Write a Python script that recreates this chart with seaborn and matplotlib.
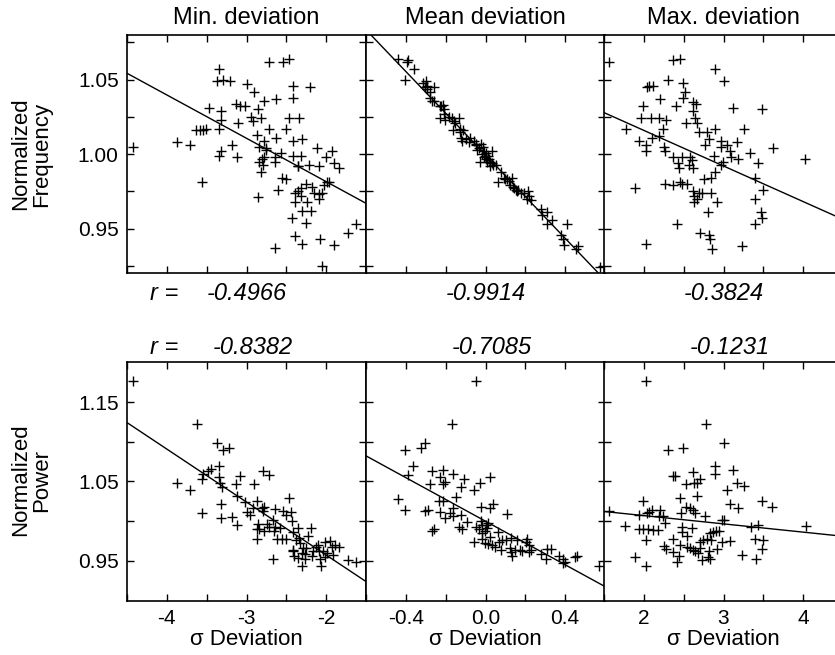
import numpy as np
import pandas as pd
import matplotlib
matplotlib.use("Agg")
import matplotlib.pyplot as plt
import seaborn as sns

# ---------------- data ----------------
col_titles = ["Min. deviation", "Mean deviation", "Max. deviation"]
row_labels = ["Normalized\nFrequency", "Normalized\nPower"]
x_label = "σ Deviation"
r_freq = ["-0.4966", "-0.9914", "-0.3824"]
r_power = ["-0.8382", "-0.7085", "-0.1231"]

freq_min_x = [-4.429, -3.877, -3.709, -3.634, -3.584, -3.550, -3.513, -3.555, -3.467, -3.341,
              -3.375, -3.291, -3.207, -3.320, -3.320, -3.341, -3.320, -3.341, -3.178, -3.115,
              -3.132, -3.082, -3.015, -3.111, -2.994, -2.902, -2.860, -2.948, -2.914, -2.818,
              -2.776, -2.873, -2.839, -2.780, -2.760, -2.847, -2.810, -2.776, -2.789, -2.818,
              -2.860, -2.714, -2.538, -2.463, -2.630, -2.722, -2.634, -2.641, -2.641, -2.563,
              -2.509, -2.471, -2.421, -2.421, -2.345, -2.421, -2.304, -2.417, -2.320, -2.358,
              -2.211, -2.086, -2.119, -2.203, -2.006, -1.923, -1.898, -1.835, -2.550, -2.509,
              -2.601, -2.387, -2.358, -2.316, -2.258, -2.182, -2.149, -2.094, -2.052, -2.027,
              -1.994, -1.965, -2.316, -2.387, -2.237, -2.086, -2.304, -2.191, -2.425, -2.249,
              -2.391, -2.304, -2.073, -1.906, -1.726, -1.622, -2.645, -2.052, -2.755, -2.358]
freq_min_y = [1.005, 1.008, 1.006, 1.016, 1.016, 1.016, 1.017, 0.981, 1.031, 1.057,
              1.049, 1.050, 1.049, 1.029, 1.023, 1.017, 1.002, 0.999, 1.006, 0.998,
              1.034, 1.032, 1.032, 1.021, 1.047, 1.042, 1.030, 1.025, 1.022, 1.024,
              1.036, 1.013, 1.005, 1.009, 1.003, 0.995, 0.997, 0.998, 0.993, 0.988,
              0.971, 1.062, 1.062, 1.064, 1.037, 1.017, 1.011, 0.998, 0.995, 1.001,
              1.017, 1.024, 1.046, 1.038, 1.024, 1.009, 1.010, 0.999, 0.999, 0.992,
              0.993, 0.992, 1.004, 1.045, 0.998, 1.002, 0.994, 0.991, 0.984, 0.983,
              0.976, 0.974, 0.975, 0.977, 0.980, 0.978, 0.974, 0.973, 0.974, 0.979,
              0.981, 0.981, 0.972, 0.968, 0.968, 0.970, 0.962, 0.962, 0.957, 0.954,
              0.945, 0.940, 0.943, 0.939, 0.947, 0.953, 0.937, 0.925, 1.004, 0.992]

freq_mean_x = [-0.437, -0.395, -0.387, -0.361, -0.403, -0.314, -0.301, -0.294, -0.261, -0.277,
               -0.277, -0.269, -0.227, -0.213, -0.207, -0.222, -0.227, -0.202, -0.168, -0.135,
               -0.151, -0.163, -0.126, -0.113, -0.121, -0.118, -0.096, -0.059, -0.050, -0.025,
               -0.034, -0.012, -0.008, 0.005, -0.005, 0.013, 0.034, -0.030, 0.000, 0.022,
               0.039, 0.055, 0.025, 0.062, 0.096, 0.118, 0.134, 0.123, 0.139, 0.160,
               0.176, 0.193, 0.213, 0.210, 0.227, 0.277, 0.311, 0.336, 0.311, 0.407,
               0.378, 0.391, 0.395, 0.462, 0.454, 0.576, -0.076, -0.084, -0.042, -0.020,
               0.008, 0.034, 0.076, 0.092, 0.109, 0.151, 0.218, -0.160, -0.185, -0.210,
               -0.261, -0.306, -0.008, 0.017, -0.126, -0.050, -0.294, 0.143, 0.163, 0.285]
freq_mean_y = [1.064, 1.062, 1.063, 1.057, 1.050, 1.048, 1.049, 1.046, 1.045, 1.042,
               1.038, 1.036, 1.032, 1.033, 1.030, 1.032, 1.024, 1.023, 1.024, 1.024,
               1.021, 1.016, 1.017, 1.016, 1.011, 1.009, 1.010, 1.009, 1.006, 1.007,
               1.004, 1.005, 1.002, 1.001, 0.999, 0.999, 1.002, 0.995, 0.997, 0.995,
               0.993, 0.993, 0.992, 0.981, 0.983, 0.982, 0.984, 0.979, 0.978, 0.975,
               0.974, 0.974, 0.975, 0.970, 0.969, 0.963, 0.961, 0.956, 0.953, 0.953,
               0.946, 0.943, 0.939, 0.938, 0.936, 0.924, 1.011, 1.008, 1.003, 1.000,
               0.995, 0.994, 0.988, 0.984, 0.983, 0.976, 0.972, 1.022, 1.025, 1.027,
               1.036, 1.045, 0.998, 0.997, 1.015, 1.007, 1.044, 0.977, 0.976, 0.959]

freq_max_x = [1.567, 1.776, 1.889, 1.944, 1.960, 1.994, 2.027, 2.027, 2.027, 2.036,
              2.065, 2.111, 2.086, 2.098, 2.203, 2.195, 2.195, 2.245, 2.253, 2.266,
              2.278, 2.266, 2.308, 2.362, 2.454, 2.362, 2.370, 2.400, 2.412, 2.433,
              2.441, 2.454, 2.475, 2.475, 2.487, 2.496, 2.521, 2.529, 2.546, 2.571,
              2.579, 2.605, 2.621, 2.655, 2.621, 2.642, 2.663, 2.621, 2.613, 2.630,
              2.634, 2.663, 2.692, 2.697, 2.705, 2.734, 2.759, 2.768, 2.789, 2.801,
              2.814, 2.822, 2.831, 2.843, 2.843, 2.856, 2.881, 2.889, 2.893, 2.897,
              2.918, 2.965, 2.965, 2.973, 2.990, 3.010, 3.048, 3.082, 3.090, 3.115,
              3.165, 3.182, 3.236, 3.261, 3.337, 3.400, 3.400, 3.400, 3.433, 3.471,
              3.483, 3.487, 3.500, 3.617, 4.027]
freq_max_y = [1.062, 1.017, 0.977, 1.009, 1.024, 1.032, 1.006, 1.002, 0.940, 1.045,
              1.046, 1.046, 1.024, 1.011, 1.037, 1.024, 1.012, 1.017, 1.005, 1.002,
              1.023, 0.980, 1.050, 1.063, 1.064, 0.998, 0.979, 1.032, 0.953, 0.994,
              0.991, 0.981, 0.980, 0.998, 1.038, 1.048, 1.042, 1.021, 0.980, 0.993,
              0.998, 0.996, 1.035, 1.034, 1.029, 1.024, 1.021, 0.991, 0.975, 0.972,
              0.968, 0.970, 0.974, 1.015, 0.947, 0.974, 0.983, 1.006, 1.015, 0.961,
              1.010, 0.946, 0.943, 0.974, 0.984, 0.936, 0.999, 1.017, 0.988, 1.057,
              0.968, 1.009, 1.005, 0.993, 0.995, 1.049, 1.006, 1.002, 0.998, 1.031,
              1.008, 0.997, 0.938, 1.017, 1.001, 0.984, 0.970, 0.953, 0.994, 0.961,
              0.957, 1.030, 0.976, 1.004, 0.997]

pow_min_x = [-4.429, -3.626, -3.375, -3.291, -3.220, -3.877, -3.709, -3.563, -3.542, -3.479,
             -3.450, -3.341, -3.341, -3.333, -3.312, -3.563, -3.320, -3.320, -3.182, -3.115,
             -3.136, -3.082, -3.115, -3.015, -2.998, -2.956, -2.902, -2.914, -2.873, -2.860,
             -2.873, -2.839, -2.864, -2.810, -2.797, -2.780, -2.789, -2.714, -2.780, -2.747,
             -2.714, -2.663, -2.642, -2.638, -2.621, -2.580, -2.559, -2.538, -2.509, -2.509,
             -2.467, -2.442, -2.425, -2.412, -2.412, -2.404, -2.383, -2.350, -2.341, -2.329,
             -2.295, -2.308, -2.308, -2.258, -2.266, -2.224, -2.195, -2.182, -2.161, -2.128,
             -2.098, -2.086, -2.078, -2.061, -2.036, -2.019, -1.994, -1.952, -1.927, -1.889,
             -1.835, -2.015, -1.910, -1.730, -1.630, -2.663, -2.421, -2.655, -2.350, -2.266]
pow_min_y = [1.176, 1.122, 1.099, 1.089, 1.092, 1.048, 1.039, 1.053, 1.060, 1.063,
             1.066, 1.069, 1.056, 1.048, 1.043, 1.010, 1.022, 1.004, 1.005, 0.995,
             1.047, 1.057, 1.032, 1.024, 1.012, 1.008, 1.047, 1.016, 1.025, 0.996,
             0.990, 0.990, 0.978, 1.016, 1.013, 1.018, 1.063, 1.058, 0.987, 0.997,
             0.993, 1.001, 0.993, 1.015, 0.977, 0.991, 0.978, 1.013, 1.008, 0.977,
             1.029, 1.011, 1.000, 0.986, 0.964, 0.956, 0.976, 0.991, 0.979, 0.972,
             0.966, 0.960, 0.944, 0.966, 0.952, 0.981, 0.991, 0.956, 0.963, 0.968,
             0.970, 0.962, 0.952, 0.943, 0.963, 0.974, 0.960, 0.975, 0.967, 0.970,
             0.968, 0.955, 0.957, 0.951, 0.948, 0.953, 0.962, 0.987, 0.954, 0.959]

pow_mean_x = [-0.050, -0.168, -0.403, -0.323, -0.303, -0.365, -0.387, -0.440, -0.403, -0.303,
              -0.289, -0.269, -0.277, -0.227, -0.213, -0.215, -0.205, -0.163, -0.121, -0.106,
              -0.146, -0.232, -0.213, -0.230, -0.205, -0.180, -0.163, -0.121, -0.163, -0.092,
              -0.131, -0.118, -0.269, -0.261, -0.059, -0.030, 0.025, -0.025, 0.022, 0.037,
              -0.025, -0.020, 0.000, 0.012, -0.034, -0.020, -0.005, 0.062, 0.106, -0.059,
              -0.017, -0.003, 0.013, 0.033, 0.047, 0.067, 0.084, 0.101, 0.129, 0.123,
              0.126, 0.134, 0.146, 0.160, 0.173, 0.185, 0.202, 0.210, 0.218, 0.227,
              0.277, 0.306, 0.311, 0.331, 0.370, 0.387, 0.391, 0.398, 0.450, 0.457,
              0.571, 0.008, -0.050, 0.025, 0.076, 0.218]
pow_mean_y = [1.176, 1.122, 1.089, 1.092, 1.098, 1.069, 1.058, 1.028, 1.014, 1.013,
              1.014, 1.063, 1.047, 1.056, 1.064, 1.047, 1.049, 1.060, 1.043, 1.053,
              1.031, 1.025, 1.026, 1.012, 1.004, 1.010, 1.007, 1.008, 1.016, 0.999,
              0.993, 0.990, 0.987, 0.990, 1.039, 1.048, 1.056, 1.018, 1.016, 1.022,
              1.000, 0.995, 0.995, 0.998, 0.990, 0.985, 0.987, 0.986, 1.009, 0.974,
              0.977, 0.972, 0.971, 0.970, 0.967, 0.974, 0.976, 0.976, 0.979, 0.966,
              0.961, 0.956, 0.964, 0.976, 0.964, 0.962, 0.974, 0.977, 0.961, 0.964,
              0.959, 0.952, 0.965, 0.965, 0.956, 0.952, 0.947, 0.949, 0.955, 0.956,
              0.943, 0.991, 0.993, 0.980, 0.964, 0.970]

pow_max_x = [2.027, 2.780, 3.006, 2.308, 2.496, 2.370, 2.387, 2.621, 2.705, 2.529,
             2.630, 2.663, 2.893, 2.889, 3.115, 3.165, 3.257, 3.040, 1.994, 2.454,
             2.672, 2.529, 2.579, 2.613, 2.462, 2.642, 2.764, 3.082, 3.178, 3.479,
             3.613, 1.567, 1.944, 2.044, 2.065, 2.107, 2.203, 2.195, 2.245, 2.266,
             1.764, 1.944, 1.985, 2.056, 2.111, 2.182, 2.475, 2.600, 2.475, 2.546,
             2.027, 2.253, 2.274, 2.370, 2.362, 2.454, 2.446, 2.412, 1.889, 2.027,
             2.538, 2.580, 2.621, 2.642, 2.676, 2.705, 2.726, 2.747, 2.789, 2.810,
             2.822, 2.831, 2.843, 2.872, 2.902, 2.914, 2.948, 2.977, 3.006, 2.985,
             3.082, 3.228, 3.341, 3.395, 3.408, 3.437, 3.500, 3.479, 4.031, 2.705,
             2.831]
pow_max_y = [1.176, 1.122, 1.099, 1.089, 1.092, 1.057, 1.057, 1.062, 1.053, 1.047,
             1.048, 1.048, 1.069, 1.059, 1.064, 1.048, 1.044, 1.039, 1.025, 1.029,
             1.032, 1.018, 1.016, 1.014, 1.010, 1.010, 1.006, 1.022, 1.016, 1.026,
             1.018, 1.013, 1.008, 1.010, 1.012, 1.014, 1.014, 1.006, 1.007, 0.998,
             0.994, 0.990, 0.990, 0.990, 0.989, 0.989, 0.993, 0.992, 0.986, 0.981,
             0.976, 0.969, 0.965, 0.977, 0.961, 0.970, 0.956, 0.948, 0.955, 0.943,
             0.967, 0.966, 0.964, 0.962, 0.960, 0.966, 0.951, 0.976, 0.977, 0.955,
             0.962, 0.953, 0.976, 0.986, 0.987, 0.965, 0.988, 1.001, 1.001, 0.974,
             0.975, 0.957, 0.993, 0.977, 0.952, 0.995, 0.976, 0.965, 0.994, 0.974,
             0.985]

# regression lines as printed in the figure (value at left x-limit, slope)
fit_start_freq = [1.0543, 1.0835, 1.0279]
fit_slope_freq = [-0.0291, -0.1400, -0.0239]
fit_start_power = [1.1241, 1.0822, 1.0122]
fit_slope_power = [-0.0667, -0.1371, -0.0104]

x_limits = [(-4.5, -1.5), (-0.6, 0.6), (1.5, 4.5)]
x_major = [[-4, -3, -2], [-0.4, 0.0, 0.4], [2, 3, 4]]
x_minor_step = [0.5, 0.2, 0.5]
x_fmt = ["{:.0f}", "{:.1f}", "{:.0f}"]
y_limits = [(0.92, 1.08), (0.90, 1.20)]
y_major = [[0.95, 1.00, 1.05], [0.95, 1.05, 1.15]]
y_minor_step = [0.025, 0.05]

panels = [
    [(freq_min_x, freq_min_y), (freq_mean_x, freq_mean_y), (freq_max_x, freq_max_y)],
    [(pow_min_x, pow_min_y), (pow_mean_x, pow_mean_y), (pow_max_x, pow_max_y)],
]
fits = [list(zip(fit_start_freq, fit_slope_freq)), list(zip(fit_start_power, fit_slope_power))]

# ---------------- style ----------------
sns.set_theme(style="ticks")
plt.rcParams["font.family"] = ["Liberation Sans", "DejaVu Sans"]
plt.rcParams["text.color"] = "black"
plt.rcParams["axes.labelcolor"] = "black"
plt.rcParams["xtick.color"] = "black"
plt.rcParams["ytick.color"] = "black"

W, H = 835, 655
fig = plt.figure(figsize=(W / 100, H / 100), dpi=100)

col_left_px = [127, 366, 604]
col_w_px = 239
row_top_px = [35, 362.3]
row_h_px = 238.3

for r in range(2):
    for c in range(3):
        left = col_left_px[c] / W
        bottom = 1 - (row_top_px[r] + row_h_px) / H
        ax = fig.add_axes([left, bottom, col_w_px / W, row_h_px / H])
        xs, ys = panels[r][c]
        df = pd.DataFrame({"x": xs, "y": ys})
        sns.scatterplot(data=df, x="x", y="y", ax=ax, marker="+", color="black",
                        s=42, linewidth=1.0, legend=False)
        lo, hi = x_limits[c]
        y0, m = fits[r][c]
        line_df = pd.DataFrame({"x": [lo, hi], "y": [y0, y0 + m * (hi - lo)]})
        sns.lineplot(data=line_df, x="x", y="y", ax=ax, color="black", lw=1.0)
        ax.set_xlim(lo, hi)
        ax.set_ylim(*y_limits[r])
        xt = np.round(np.arange(lo, hi + 1e-9, x_minor_step[c]), 4)
        ax.set_xticks(xt)
        if r == 1:
            ax.set_xticklabels([x_fmt[c].format(v) if any(abs(v - mm) < 1e-6 for mm in x_major[c]) else ""
                                for v in xt])
            ax.set_xlabel(x_label, fontsize=16, labelpad=1)
        else:
            ax.set_xticklabels([])
            ax.set_xlabel("")
        ylo, yhi = y_limits[r]
        yt = np.round(np.arange(np.ceil(ylo / y_minor_step[r] - 1e-6) * y_minor_step[r], yhi + 1e-9,
                                y_minor_step[r]), 4)
        yt = [v for v in yt if ylo < v < yhi]
        ax.set_yticks(yt)
        if c == 0:
            ax.set_yticklabels(["{:.2f}".format(v) if any(abs(v - mm) < 1e-6 for mm in y_major[r]) else ""
                                for v in yt])
        else:
            ax.set_yticklabels([])
        ax.set_ylabel("")
        ax.tick_params(direction="in", length=5, width=1, top=True, right=True,
                       labelsize=15, pad=6, colors="black")
        for s in ax.spines.values():
            s.set_linewidth(1.2)
            s.set_color("black")

# titles
for c in range(3):
    cx = (col_left_px[c] + col_w_px / 2) / W
    fig.text(cx, 1 - 18 / H, col_titles[c], ha="center", va="center", fontsize=17)

# row labels
fig.text(31 / W, 1 - 154 / H, row_labels[0], rotation=90, ha="center", va="center",
         fontsize=16, linespacing=1.0)
fig.text(31 / W, 1 - 480 / H, row_labels[1], rotation=90, ha="center", va="center",
         fontsize=16, linespacing=1.0)

# r values
for c in range(3):
    cx = (col_left_px[c] + col_w_px / 2) / W
    fig.text(cx, 1 - 294 / H, r_freq[c], ha="center", va="center", fontsize=17, style="italic")
    fig.text(cx + 6 / W, 1 - 347 / H, r_power[c], ha="center", va="center", fontsize=17, style="italic")
fig.text(178 / W, 1 - 294 / H, "r =", ha="right", va="center", fontsize=17, style="italic")
fig.text(178 / W, 1 - 347 / H, "r =", ha="right", va="center", fontsize=17, style="italic")

fig.savefig("out.png", dpi=100)
